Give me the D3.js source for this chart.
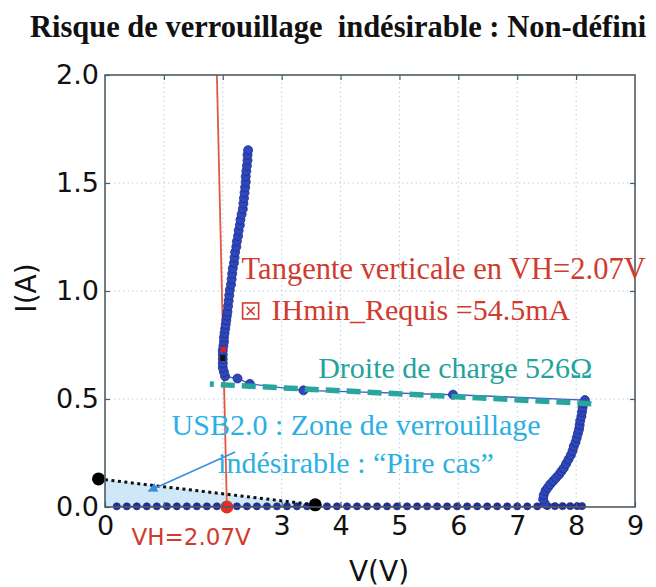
<!DOCTYPE html>
<html>
<head>
<meta charset="utf-8">
<script src="https://cdn.jsdelivr.net/npm/d3@7"></script>
<style>
  html, body { margin: 0; padding: 0; background: #fff; }
  svg { display: block; }
  .tick text { font-family: "DejaVu Sans", sans-serif; fill: #111; }
</style>
</head>
<body>
<svg id="chart" width="656" height="587"></svg>
<script>
// I-V measurement (V in volts, I in amperes), grouped by region of the curve
const leakage = [
  [0.20,0.003],[0.37,0.003],[0.54,0.003],[0.71,0.003],[0.88,0.003],[1.05,0.003],[1.22,0.003],
  [1.39,0.003],[1.56,0.003],[1.73,0.003],[1.90,0.003],[2.07,0.003],[2.24,0.003],[2.41,0.003],
  [2.58,0.003],[2.75,0.003],[2.92,0.003],[3.09,0.003],[3.26,0.003],[3.43,0.003],[3.60,0.003],
  [3.77,0.003],[3.94,0.003],[4.11,0.003],[4.28,0.003],[4.45,0.003],[4.62,0.003],[4.79,0.003],
  [4.96,0.003],[5.13,0.003],[5.30,0.003],[5.47,0.003],[5.64,0.003],[5.81,0.003],[5.98,0.003],
  [6.15,0.003],[6.32,0.003],[6.49,0.003],[6.66,0.003],[6.83,0.003],[7.00,0.003],[7.17,0.003],
  [7.34,0.003],[7.51,0.004],[7.64,0.004],[7.77,0.004],[7.90,0.004],[8.02,0.004],[8.10,0.004]
];
const breakdown = [
  [7.47,0.015],[7.44,0.035],[7.45,0.055],[7.48,0.075],[7.52,0.090],[7.56,0.105],[7.61,0.120],
  [7.66,0.135],[7.71,0.150],[7.75,0.165],[7.79,0.180],[7.83,0.200],[7.87,0.220],[7.91,0.240],
  [7.94,0.260],[7.96,0.280],[7.99,0.300],[8.01,0.320],[8.03,0.340],[8.05,0.360],[8.06,0.380],
  [8.07,0.400],[8.09,0.420],[8.10,0.440],[8.11,0.460],[8.13,0.480],[8.15,0.495]
];
const snapback = [[5.91,0.520],[3.37,0.540],[2.46,0.570],[2.25,0.595]];
const holding = [
  [2.04,0.605],[2.02,0.625],[2.00,0.645],[2.00,0.665],[2.00,0.685],[2.00,0.705],[2.00,0.725],
  [2.01,0.745],[2.02,0.765],[2.02,0.785],[2.03,0.805],[2.04,0.825],[2.05,0.845],[2.06,0.865],
  [2.07,0.885],[2.08,0.905],[2.09,0.930],[2.10,0.955],[2.11,0.980],[2.12,1.005],[2.14,1.030],
  [2.15,1.055],[2.16,1.080],[2.17,1.105],[2.19,1.130],[2.20,1.155],[2.21,1.180],[2.23,1.205],
  [2.24,1.230],[2.26,1.255],[2.27,1.280],[2.29,1.305],[2.30,1.330],[2.32,1.355],[2.34,1.380],
  [2.35,1.405],[2.36,1.430],[2.37,1.455],[2.38,1.480],[2.39,1.505],[2.39,1.530],[2.40,1.555],
  [2.41,1.580],[2.42,1.605],[2.42,1.630],[2.43,1.652]
];

// Construction lines and markers
const tangentLine = [[1.90,2.0],[2.07,0.0]];
const vhPoint = [2.07, 0.0];
const ihRequired = [2.01, 0.73];
const ihMeasured = [2.00, 0.69];
const loadLine = [[1.78,0.569],[8.37,0.477]];
const usbLine = [[-0.11,0.13],[3.57,0.01]];
const usbZone = [[0,0],[0,0.128],[3.57,0.01],[3.57,0]];
const usbArrow = [[2.21,0.255],[0.74,0.074]];

// Axes
const xDomain = [0, 9];
const yDomain = [0, 2];
const xTickLabels = [0, 3, 4, 5, 6, 7, 8, 9];
const xGrid = [1, 2, 3, 4, 5, 6, 7, 8];
const yTicks = [0, 0.5, 1.0, 1.5, 2.0];
const yGrid = [0.5, 1.0, 1.5];

// Texts
const titleText = "Risque de verrouillage  indésirable : Non-défini";
const tangentText = "Tangente verticale en VH=2.07V";
const ihText = "IHmin_Requis =54.5mA";
const loadText = "Droite de charge 526\u03A9";
const usbText1 = "USB2.0 : Zone de verrouillage";
const usbText2 = "indésirable : \u201CPire cas\u201D";
const vhText = "VH=2.07V";

const svg = d3.select("#chart");
const x = d3.scaleLinear().domain(xDomain).range([105, 635]);
const y = d3.scaleLinear().domain(yDomain).range([507, 75]);
const [x0, x1] = x.range();
const [y0, y1] = y.range();

const serif = "'Liberation Serif', 'Times New Roman', serif";
const sans = "'DejaVu Sans', sans-serif";
const red = "#cf3b2e", teal = "#23a39b", cyan = "#2bb0e3";

// Title
svg.append("text")
  .attr("x", 338).attr("y", 37)
  .attr("text-anchor", "middle")
  .attr("font-family", serif).attr("font-weight", "bold")
  .attr("font-size", 30.5).attr("fill", "#111")
  .attr("xml:space", "preserve")
  .text(titleText);

// Grid
const grid = svg.append("g").attr("stroke", "#b8d2e6").attr("stroke-width", 1)
  .attr("stroke-dasharray", "1.5,3");
grid.selectAll("line.gx").data(xGrid).join("line")
  .attr("x1", d => x(d)).attr("x2", d => x(d)).attr("y1", y0).attr("y2", y1);
grid.selectAll("line.gy").data(yGrid).join("line")
  .attr("y1", d => y(d)).attr("y2", d => y(d)).attr("x1", x0).attr("x2", x1);

// USB2.0 forbidden zone
svg.append("path")
  .datum(usbZone)
  .attr("d", d3.line().x(d => x(d[0])).y(d => y(d[1])))
  .attr("fill", "#cfe8f7");

// Tangent line at VH
svg.append("line")
  .attr("x1", x(tangentLine[0][0])).attr("y1", y(tangentLine[0][1]))
  .attr("x2", x(tangentLine[1][0])).attr("y2", y(tangentLine[1][1]))
  .attr("stroke", "#e4573f").attr("stroke-width", 1.8);

// Measured curve: thin connecting line then dots
const curve = leakage.concat(breakdown, snapback, holding);
svg.append("path")
  .datum(curve)
  .attr("d", d3.line().x(d => x(d[0])).y(d => y(d[1])))
  .attr("fill", "none").attr("stroke", "#4a57cf").attr("stroke-width", 1.4);

svg.append("g").selectAll("circle").data(leakage).join("circle")
  .attr("cx", d => x(d[0])).attr("cy", d => y(d[1]))
  .attr("r", 3.6).attr("fill", "#24309a").attr("stroke", "#1a2478").attr("stroke-width", 0.6);

svg.append("g").selectAll("circle").data(breakdown.concat(snapback, holding)).join("circle")
  .attr("cx", d => x(d[0])).attr("cy", d => y(d[1]))
  .attr("r", 4.5).attr("fill", "#2e48bc").attr("stroke", "#1d2c8c").attr("stroke-width", 0.8);

// Load line
svg.append("line")
  .attr("x1", x(loadLine[0][0])).attr("y1", y(loadLine[0][1]))
  .attr("x2", x(loadLine[1][0])).attr("y2", y(loadLine[1][1]))
  .attr("stroke", "#28a69e").attr("stroke-width", 5.5)
  .attr("stroke-dasharray", "4,7,14,7,14,7,14,7,14,7,14,7,14,7,14,7,14,7,14,7,14,7,14,7,14,7,14,7,14,7,14,7,14,7,14,7,14,7,14,7,14,7");

// USB2.0 dotted line and end points
svg.append("line")
  .attr("x1", x(usbLine[0][0])).attr("y1", y(usbLine[0][1]))
  .attr("x2", x(usbLine[1][0])).attr("y2", y(usbLine[1][1]))
  .attr("stroke", "#111").attr("stroke-width", 3).attr("stroke-dasharray", "3,3.5");
svg.append("g").selectAll("circle").data(usbLine).join("circle")
  .attr("cx", d => x(d[0])).attr("cy", d => y(d[1]))
  .attr("r", 6.5).attr("fill", "#000");

// Markers on holding region
svg.append("rect")
  .attr("x", x(ihMeasured[0]) - 2.5).attr("y", y(ihMeasured[1]) - 3)
  .attr("width", 5).attr("height", 6).attr("fill", "#111");
svg.append("rect")
  .attr("x", x(ihRequired[0]) - 2.5).attr("y", y(ihRequired[1]) - 2.5)
  .attr("width", 5).attr("height", 5).attr("fill", "#f01818");

// VH point
svg.append("circle")
  .attr("cx", x(vhPoint[0])).attr("cy", y(vhPoint[1]))
  .attr("r", 6.5).attr("fill", "#e3302a");

// Arrow
const defs = svg.append("defs");
defs.append("marker")
  .attr("id", "arrowHead").attr("viewBox", "0 0 10 10")
  .attr("refX", 9).attr("refY", 5)
  .attr("markerWidth", 6).attr("markerHeight", 6)
  .attr("markerUnits", "strokeWidth")
  .attr("orient", "auto")
  .append("path").attr("d", "M0,0 L10,5 L0,10 Z").attr("fill", "#3a8fe0");
svg.append("line")
  .attr("x1", x(usbArrow[0][0])).attr("y1", y(usbArrow[0][1]))
  .attr("x2", x(usbArrow[1][0])).attr("y2", y(usbArrow[1][1]))
  .attr("stroke", "#3a8fe0").attr("stroke-width", 1.6)
  .attr("marker-end", "url(#arrowHead)");

// Frame
svg.append("rect")
  .attr("x", x0).attr("y", y1).attr("width", x1 - x0).attr("height", y0 - y1)
  .attr("fill", "none").attr("stroke", "#4d5c63").attr("stroke-width", 1.6);

// Axes (ticks pointing inward, labels outside)
const axisStyle = g => {
  g.select(".domain").remove();
  g.selectAll(".tick line").attr("stroke", "#4d5c63").attr("stroke-width", 1.2);
};
svg.append("g").attr("transform", `translate(0,${y0})`)
  .call(d3.axisBottom(x).tickValues(xTickLabels).tickFormat(d3.format("d"))
    .tickSizeInner(-5).tickSizeOuter(0).tickPadding(9))
  .call(axisStyle)
  .call(g => g.selectAll("text").attr("font-size", 27).attr("font-family", sans));
svg.append("g").attr("transform", `translate(0,${y0})`)
  .call(d3.axisBottom(x).tickValues([1, 2]).tickFormat("").tickSizeInner(-5).tickSizeOuter(0))
  .call(axisStyle);
svg.append("g").attr("transform", `translate(0,${y1})`)
  .call(d3.axisTop(x).tickValues(xGrid).tickFormat("").tickSizeInner(-5).tickSizeOuter(0))
  .call(axisStyle);
svg.append("g").attr("transform", `translate(${x0},0)`)
  .call(d3.axisLeft(y).tickValues(yTicks).tickFormat(d3.format(".1f"))
    .tickSizeInner(-5).tickSizeOuter(0).tickPadding(6))
  .call(axisStyle)
  .call(g => g.selectAll("text").attr("font-size", 27).attr("font-family", sans));
svg.append("g").attr("transform", `translate(${x1},0)`)
  .call(d3.axisRight(y).tickValues(yGrid).tickFormat("").tickSizeInner(-5).tickSizeOuter(0))
  .call(axisStyle);

// Axis titles
svg.append("text")
  .attr("x", 379).attr("y", 581)
  .attr("text-anchor", "middle")
  .attr("font-family", sans).attr("font-size", 28).attr("fill", "#111")
  .text("V(V)");
svg.append("text")
  .attr("transform", "translate(36,288) rotate(-90)")
  .attr("text-anchor", "middle")
  .attr("font-family", sans).attr("font-size", 28).attr("fill", "#111")
  .text("I(A)");

// Annotations
svg.append("text")
  .attr("x", x(0.45)).attr("y", y0 + 38)
  .attr("font-family", sans).attr("font-size", 23).attr("fill", red)
  .text(vhText);

svg.append("text")
  .attr("x", x(2.32)).attr("y", y(1.056))
  .attr("font-family", serif).attr("font-size", 30.5).attr("fill", red)
  .text(tangentText);

// Boxed cross symbol before the IH text
const bx = x(2.32), by = y(0.866);
svg.append("rect")
  .attr("x", bx + 1).attr("y", by - 17).attr("width", 16).attr("height", 16)
  .attr("fill", "none").attr("stroke", red).attr("stroke-width", 1.6);
svg.append("path")
  .attr("d", `M${bx + 5},${by - 13} L${bx + 13},${by - 5} M${bx + 13},${by - 13} L${bx + 5},${by - 5}`)
  .attr("stroke", red).attr("stroke-width", 1.6);
svg.append("text")
  .attr("x", bx + 30).attr("y", by)
  .attr("font-family", serif).attr("font-size", 30).attr("fill", red)
  .text(ihText);

svg.append("text")
  .attr("x", x(3.62)).attr("y", y(0.597))
  .attr("font-family", serif).attr("font-size", 30).attr("fill", teal)
  .text(loadText);

svg.append("text")
  .attr("x", x(1.13)).attr("y", y(0.333))
  .attr("font-family", serif).attr("font-size", 30).attr("fill", cyan)
  .text(usbText1);
svg.append("text")
  .attr("x", x(1.92)).attr("y", y(0.157))
  .attr("font-family", serif).attr("font-size", 30).attr("fill", cyan)
  .text(usbText2);
</script>
</body>
</html>
